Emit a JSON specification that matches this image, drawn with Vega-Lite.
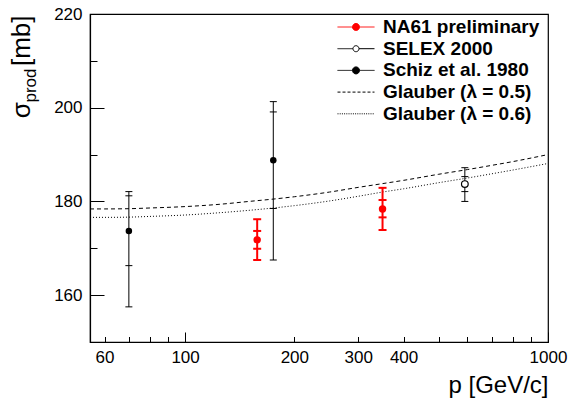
{
  "$schema": "https://vega.github.io/schema/vega-lite/v6.json",
  "width": 458,
  "height": 328,
  "autosize": "none",
  "padding": {"left": 90, "top": 14, "right": 24, "bottom": 61},
  "config": {
    "view": {"stroke": "black", "strokeWidth": 1.2},
    "axis": {"grid": false, "domainColor": "black", "domainWidth": 1.2, "tickColor": "black", "tickWidth": 1, "labelColor": "black", "titleColor": "black", "labelFont": "Liberation Sans", "titleFont": "Liberation Sans"}
  },
  "datasets": {
    "points": [
      {"series": "NA61 preliminary", "p": 158, "sigma": 171.8, "stat_lo": 169.9, "stat_hi": 173.7, "tot_lo": 167.5, "tot_hi": 176.2},
      {"series": "NA61 preliminary", "p": 350, "sigma": 178.4, "stat_lo": 176.6, "stat_hi": 180.3, "tot_lo": 173.9, "tot_hi": 182.9},
      {"series": "SELEX 2000", "p": 590, "sigma": 183.7, "stat_lo": 182.1, "stat_hi": 185.3, "tot_lo": 180.0, "tot_hi": 187.2},
      {"series": "Schiz et al. 1980", "p": 70, "sigma": 173.7, "stat_lo": 166.3, "stat_hi": 181.2, "tot_lo": 157.5, "tot_hi": 182.1},
      {"series": "Schiz et al. 1980", "p": 175, "sigma": 188.8, "stat_lo": 178.5, "stat_hi": 199.1, "tot_lo": 167.5, "tot_hi": 201.3}
    ],
    "curves": [
      {"series": "Glauber (λ = 0.5)", "p": 54.7, "sigma": 178.4},
      {"series": "Glauber (λ = 0.5)", "p": 60, "sigma": 178.4},
      {"series": "Glauber (λ = 0.5)", "p": 70, "sigma": 178.45},
      {"series": "Glauber (λ = 0.5)", "p": 80, "sigma": 178.6},
      {"series": "Glauber (λ = 0.5)", "p": 100, "sigma": 178.9},
      {"series": "Glauber (λ = 0.5)", "p": 125, "sigma": 179.4},
      {"series": "Glauber (λ = 0.5)", "p": 150, "sigma": 180.0},
      {"series": "Glauber (λ = 0.5)", "p": 175, "sigma": 180.5},
      {"series": "Glauber (λ = 0.5)", "p": 200, "sigma": 181.0},
      {"series": "Glauber (λ = 0.5)", "p": 250, "sigma": 182.0},
      {"series": "Glauber (λ = 0.5)", "p": 300, "sigma": 183.0},
      {"series": "Glauber (λ = 0.5)", "p": 350, "sigma": 183.8},
      {"series": "Glauber (λ = 0.5)", "p": 400, "sigma": 184.5},
      {"series": "Glauber (λ = 0.5)", "p": 500, "sigma": 185.8},
      {"series": "Glauber (λ = 0.5)", "p": 600, "sigma": 186.8},
      {"series": "Glauber (λ = 0.5)", "p": 700, "sigma": 187.7},
      {"series": "Glauber (λ = 0.5)", "p": 800, "sigma": 188.5},
      {"series": "Glauber (λ = 0.5)", "p": 1000, "sigma": 190.0},
      {"series": "Glauber (λ = 0.6)", "p": 54.7, "sigma": 176.6},
      {"series": "Glauber (λ = 0.6)", "p": 60, "sigma": 176.6},
      {"series": "Glauber (λ = 0.6)", "p": 70, "sigma": 176.65},
      {"series": "Glauber (λ = 0.6)", "p": 80, "sigma": 176.8},
      {"series": "Glauber (λ = 0.6)", "p": 100, "sigma": 177.1},
      {"series": "Glauber (λ = 0.6)", "p": 125, "sigma": 177.6},
      {"series": "Glauber (λ = 0.6)", "p": 150, "sigma": 178.1},
      {"series": "Glauber (λ = 0.6)", "p": 175, "sigma": 178.6},
      {"series": "Glauber (λ = 0.6)", "p": 200, "sigma": 179.1},
      {"series": "Glauber (λ = 0.6)", "p": 250, "sigma": 180.1},
      {"series": "Glauber (λ = 0.6)", "p": 300, "sigma": 181.1},
      {"series": "Glauber (λ = 0.6)", "p": 350, "sigma": 182.0},
      {"series": "Glauber (λ = 0.6)", "p": 400, "sigma": 182.7},
      {"series": "Glauber (λ = 0.6)", "p": 500, "sigma": 184.0},
      {"series": "Glauber (λ = 0.6)", "p": 600, "sigma": 185.0},
      {"series": "Glauber (λ = 0.6)", "p": 700, "sigma": 185.9},
      {"series": "Glauber (λ = 0.6)", "p": 800, "sigma": 186.7},
      {"series": "Glauber (λ = 0.6)", "p": 1000, "sigma": 188.1}
    ]
  },
  "resolve": {"axis": {"y": "independent"}},
  "layer": [
    {
      "data": {"name": "curves"},
      "mark": {"type": "line", "strokeWidth": 1, "interpolate": "monotone", "clip": true},
      "encoding": {
        "x": {
          "field": "p", "type": "quantitative",
          "scale": {"type": "log", "domain": [54.7, 1000], "nice": false},
          "axis": {
            "values": [60, 70, 80, 90, 100, 200, 300, 400, 500, 600, 700, 800, 900, 1000],
            "labelExpr": "indexof([60, 100, 200, 300, 400, 1000], datum.value) >= 0 ? '' + datum.value : ''",
            "tickSize": {"condition": {"test": "datum.value == 100 || datum.value == 1000", "value": -10}, "value": -5.5},
            "labelPadding": {"condition": {"test": "datum.value == 100 || datum.value == 1000", "value": 17}, "value": 12.5},
            "labelFontSize": 17, "labelFlush": false, "labelOverlap": false, "labelBound": false,
            "title": "p [GeV/c]", "titleFontSize": 24, "titleFontWeight": "normal",
            "titleAlign": "right", "titleAnchor": "end", "titleBaseline": "alphabetic", "titleX": 458, "titleY": 50
          }
        },
        "y": {
          "field": "sigma", "type": "quantitative",
          "scale": {"domain": [150, 220], "nice": false, "zero": false},
          "axis": {
            "orient": "left",
            "values": [160, 170, 180, 190, 200, 210, 220],
            "labelExpr": "datum.value % 20 == 0 ? '' + datum.value : ''",
            "tickSize": {"condition": {"test": "datum.value % 20 == 0", "value": -14}, "value": -7},
            "labelPadding": {"condition": {"test": "datum.value % 20 == 0", "value": 22}, "value": 15},
            "labelFontSize": 17, "labelFlush": false, "labelOverlap": false,
            "title": "σ\u00a0\u00a0\u00a0\u00a0\u00a0[mb]", "titleFontSize": 26, "titleFontWeight": "normal",
            "titleAngle": -90, "titleAlign": "right", "titleBaseline": "alphabetic", "titleX": -61, "titleY": 1
          }
        },
        "color": {
          "field": "series", "type": "nominal",
          "scale": {"domain": ["NA61 preliminary", "SELEX 2000", "Schiz et al. 1980", "Glauber (λ = 0.5)", "Glauber (λ = 0.6)"], "range": ["#ff0000", "black", "black", "black", "black"]},
          "legend": {
            "orient": "none", "legendX": 256.5, "legendY": 3.5, "title": null, "padding": 0,
            "symbolSize": 100, "labelOffset": 17.5, "rowPadding": 1.7,
            "labelFont": "Liberation Sans", "labelFontSize": 19, "labelFontWeight": "bold", "labelColor": "black", "labelLimit": 400,
            "encode": {
              "symbols": {
                "update": {
                  "shape": {"signal": "datum.value == 'NA61 preliminary' || datum.value == 'Schiz et al. 1980' ? 'M-3.7,0L-0.7,0M0.7,0L3.7,0M-0.7,0A0.7,0.7,0,1,0,0.7,0A0.7,0.7,0,1,0,-0.7,0Z' : datum.value == 'SELEX 2000' ? 'M-3.7,0L-0.6,0M0.6,0L3.7,0M-0.6,0A0.6,0.6,0,1,0,0.6,0A0.6,0.6,0,1,0,-0.6,0Z' : 'M-3.7,0L3.7,0'"},
                  "fill": {"signal": "datum.value == 'NA61 preliminary' ? '#ff0000' : datum.value == 'SELEX 2000' ? 'white' : datum.value == 'Schiz et al. 1980' ? 'black' : 'transparent'"},
                  "stroke": {"signal": "datum.value == 'NA61 preliminary' ? '#ff0000' : 'black'"},
                  "strokeDash": {"signal": "datum.value == 'Glauber (λ = 0.5)' ? [3, 2] : datum.value == 'Glauber (λ = 0.6)' ? [1, 1.2] : [1, 0]"},
                  "strokeWidth": {"value": 1},
                  "opacity": {"value": 1},
                  "size": {"value": 100}
                }
              }
            }
          }
        },
        "strokeDash": {
          "field": "series", "type": "nominal",
          "scale": {"domain": ["Glauber (λ = 0.5)", "Glauber (λ = 0.6)"], "range": [[4, 3], [1, 2]]},
          "legend": null
        }
      }
    },
    {
      "data": {"name": "points"},
      "mark": {"type": "rule"},
      "encoding": {
        "x": {"field": "p", "type": "quantitative"},
        "y": {"field": "tot_lo", "type": "quantitative", "axis": null},
        "y2": {"field": "tot_hi"},
        "color": {"condition": {"test": "datum.series == 'NA61 preliminary'", "value": "#ff0000"}, "value": "black"},
        "strokeWidth": {"condition": {"test": "datum.series == 'NA61 preliminary'", "value": 2}, "value": 1}
      }
    },
    {
      "data": {"name": "points"},
      "transform": [
        {"filter": "datum.series == 'NA61 preliminary'"},
        {"fold": ["stat_lo", "stat_hi", "tot_lo", "tot_hi"], "as": ["k", "v"]}
      ],
      "mark": {"type": "tick", "orient": "horizontal", "size": 8, "thickness": 2, "color": "#ff0000", "opacity": 1},
      "encoding": {
        "x": {"field": "p", "type": "quantitative"},
        "y": {"field": "v", "type": "quantitative", "axis": null}
      }
    },
    {
      "data": {"name": "points"},
      "transform": [
        {"filter": "datum.series != 'NA61 preliminary'"},
        {"fold": ["stat_lo", "stat_hi", "tot_lo", "tot_hi"], "as": ["k", "v"]}
      ],
      "mark": {"type": "tick", "orient": "horizontal", "size": 7, "thickness": 1, "color": "black", "opacity": 1},
      "encoding": {
        "x": {"field": "p", "type": "quantitative"},
        "y": {"field": "v", "type": "quantitative", "axis": null}
      }
    },
    {
      "data": {"name": "points"},
      "transform": [{"filter": "datum.series != 'SELEX 2000'"}],
      "mark": {"type": "point", "shape": "circle", "filled": true, "opacity": 1},
      "encoding": {
        "x": {"field": "p", "type": "quantitative"},
        "y": {"field": "sigma", "type": "quantitative", "axis": null},
        "color": {"condition": {"test": "datum.series == 'NA61 preliminary'", "value": "#ff0000"}, "value": "black"},
        "size": {"condition": {"test": "datum.series == 'NA61 preliminary'", "value": 55}, "value": 42}
      }
    },
    {
      "data": {"name": "points"},
      "transform": [{"filter": "datum.series == 'SELEX 2000'"}],
      "mark": {"type": "point", "shape": "circle", "fill": "white", "stroke": "black", "strokeWidth": 1.2, "size": 45, "opacity": 1, "fillOpacity": 1},
      "encoding": {
        "x": {"field": "p", "type": "quantitative"},
        "y": {
          "field": "sigma", "type": "quantitative",
          "axis": {
            "orient": "left", "labels": false, "ticks": false, "domain": false, "grid": false,
            "title": "prod", "titleFontSize": 17, "titleFontWeight": "normal",
            "titleAngle": -90, "titleAlign": "right", "titleBaseline": "alphabetic", "titleX": -55, "titleY": 54
          }
        }
      }
    }
  ]
}
